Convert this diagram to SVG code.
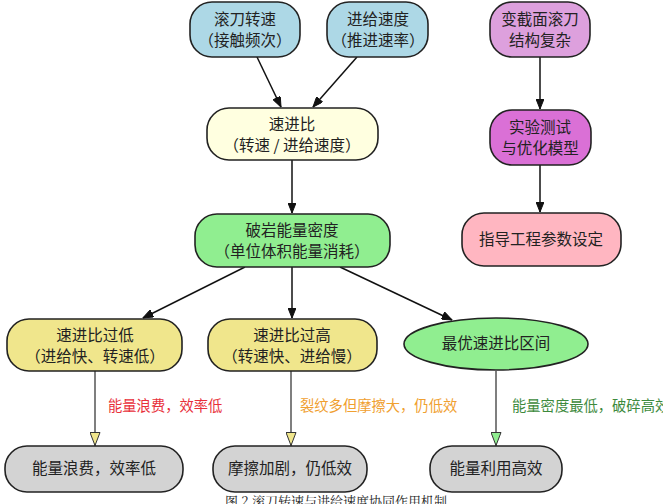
<svg xmlns="http://www.w3.org/2000/svg" width="663" height="504" viewBox="0 0 663 504">
<defs>
<style>
.n{stroke:#222;stroke-width:1.6}
.t{font-family:"Noto Sans CJK SC","Noto Sans",sans-serif;font-size:15.5px;fill:#222;text-anchor:middle}
.l{font-family:"Noto Sans CJK SC","Noto Sans",sans-serif;font-size:14.3px;text-anchor:start}
.e{stroke:#111;stroke-width:1.5;fill:none}
.g{stroke:#555;stroke-width:1.5;fill:none}
</style>
<marker id="ab" viewBox="0 0 10 8" refX="10" refY="4" markerWidth="11" markerHeight="8" markerUnits="userSpaceOnUse" orient="auto"><path d="M0,0L10,4L0,8Z" fill="#111" stroke="#111" stroke-width="1"/></marker>
<marker id="ay" viewBox="0 0 14 11" refX="14" refY="5.5" markerWidth="14" markerHeight="11" markerUnits="userSpaceOnUse" orient="auto"><path d="M0.5,0.5L13.5,5.5L0.5,10.5Z" fill="#f0e68c" stroke="#333" stroke-width="1"/></marker>
<marker id="ag" viewBox="0 0 14 11" refX="14" refY="5.5" markerWidth="14" markerHeight="11" markerUnits="userSpaceOnUse" orient="auto"><path d="M0.5,0.5L13.5,5.5L0.5,10.5Z" fill="#90ee90" stroke="#333" stroke-width="1"/></marker>
</defs>
<rect width="663" height="504" fill="#fff"/>
<g id="connectors">
<line class="e" x1="257" y1="57" x2="281" y2="107" marker-end="url(#ab)"/>
<line class="e" x1="357" y1="57" x2="313" y2="107" marker-end="url(#ab)"/>
<line class="e" x1="292" y1="160" x2="292" y2="213" marker-end="url(#ab)"/>
<line class="e" x1="245" y1="267" x2="143" y2="318" marker-end="url(#ab)"/>
<line class="e" x1="292" y1="267" x2="292" y2="318" marker-end="url(#ab)"/>
<line class="e" x1="340" y1="267" x2="452" y2="320" marker-end="url(#ab)"/>
<line class="e" x1="540" y1="57" x2="540" y2="109" marker-end="url(#ab)"/>
<line class="e" x1="540" y1="165" x2="540" y2="212" marker-end="url(#ab)"/>
<line class="g" x1="95" y1="371" x2="95" y2="446" marker-end="url(#ay)"/>
<line class="g" x1="291" y1="371" x2="291" y2="446" marker-end="url(#ay)"/>
<line class="g" x1="496" y1="371" x2="496" y2="446" marker-end="url(#ag)"/>
<text class="l" x="108" y="411" fill="#e8303a">能量浪费，效率低</text>
<text class="l" x="300" y="411" fill="#f0a030">裂纹多但摩擦大，仍低效</text>
<text class="l" x="512" y="411" fill="#3d8a3d">能量密度最低，破碎高效</text>
</g>
<g id="n_speed"><rect class="n" x="190" y="2" width="110" height="55" rx="22" fill="#add8e6"/><text class="t" x="245" y="25">滚刀转速</text><text class="t" x="245" y="46">（接触频次）</text></g>
<g id="n_feed"><rect class="n" x="327" y="2" width="101" height="55" rx="22" fill="#add8e6"/><text class="t" x="378" y="25">进给速度</text><text class="t" x="378" y="46">（推进速率）</text></g>
<g id="n_cutter"><rect class="n" x="490" y="2" width="100" height="55" rx="22" fill="#dda0dd"/><text class="t" x="540" y="25">变截面滚刀</text><text class="t" x="540" y="46">结构复杂</text></g>
<g id="n_test"><rect class="n" x="490" y="110" width="101" height="55" rx="22" fill="#da70d6"/><text class="t" x="540" y="133">实验测试</text><text class="t" x="540" y="154">与优化模型</text></g>
<g id="n_guide"><rect class="n" x="462" y="213" width="159" height="53" rx="22" fill="#ffb6c1"/><text class="t" x="541" y="245">指导工程参数设定</text></g>
<g id="n_ratio"><rect class="n" x="207" y="108" width="171" height="52" rx="22" fill="#ffffe0"/><text class="t" x="292" y="130">速进比</text><text class="t" x="292" y="151">（转速  /  进给速度）</text></g>
<g id="n_energy"><rect class="n" x="195" y="214" width="195" height="53" rx="22" fill="#90ee90"/><text class="t" x="292" y="236">破岩能量密度</text><text class="t" x="292" y="257">（单位体积能量消耗）</text></g>
<g id="n_low"><rect class="n" x="7" y="319" width="175" height="52" rx="22" fill="#f0e68c"/><text class="t" x="95" y="341">速进比过低</text><text class="t" x="95" y="362">（进给快、转速低）</text></g>
<g id="n_high"><rect class="n" x="208" y="319" width="169" height="52" rx="22" fill="#f0e68c"/><text class="t" x="292" y="341">速进比过高</text><text class="t" x="292" y="362">（转速快、进给慢）</text></g>
<g id="n_opt"><ellipse class="n" cx="496" cy="344" rx="92" ry="26" fill="#90ee90"/><text class="t" x="496" y="349">最优速进比区间</text></g>
<g id="n_waste"><rect class="n" x="5" y="446" width="178" height="46" rx="22" fill="#d3d3d3"/><text class="t" x="94" y="474">能量浪费，效率低</text></g>
<g id="n_fric"><rect class="n" x="213" y="446" width="154" height="46" rx="22" fill="#d3d3d3"/><text class="t" x="290" y="474">摩擦加剧，仍低效</text></g>
<g id="n_eff"><rect class="n" x="430" y="446" width="132" height="46" rx="22" fill="#d3d3d3"/><text class="t" x="496" y="474">能量利用高效</text></g>
<text x="336" y="506" font-family="'Noto Serif CJK SC','Noto Sans CJK SC',serif" font-size="13" fill="#222" text-anchor="middle">图 2 滚刀转速与进给速度协同作用机制</text>
</svg>
